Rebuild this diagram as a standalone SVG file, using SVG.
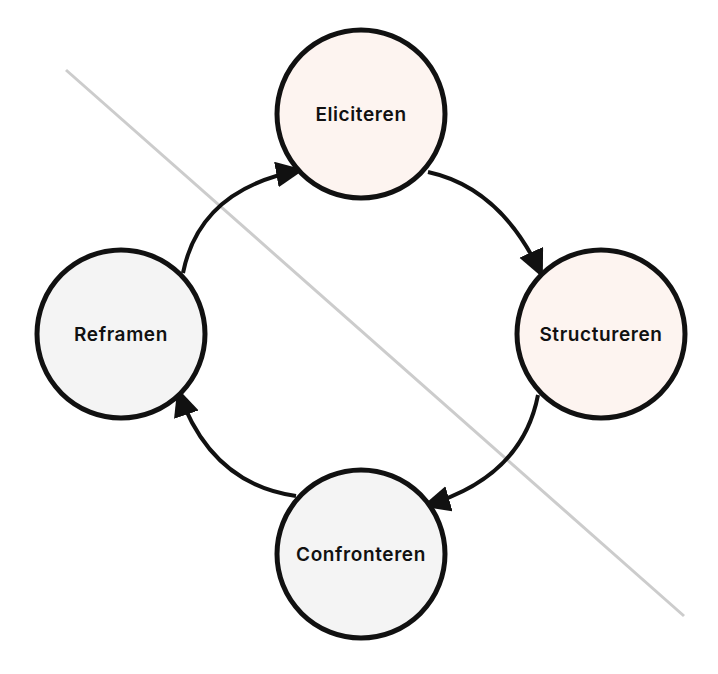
<svg xmlns="http://www.w3.org/2000/svg" width="718" height="674" viewBox="0 0 718 674">
<style>
.n{stroke:#111;stroke-width:5}
.w{fill:#FDF4F0}.g{fill:#F4F4F4}
text{font-family:Inter,"Liberation Sans",sans-serif;font-weight:600;font-size:19px;letter-spacing:0.6px;fill:#111;text-anchor:middle;dominant-baseline:central}
.c{fill:none;stroke:#111;stroke-width:4}
</style>
<defs><marker id="a" markerUnits="userSpaceOnUse" markerWidth="30" markerHeight="30" refX="26" refY="13" orient="auto"><path d="M0,0L28,13L0,26Z" fill="#111"/></marker></defs>
<rect width="718" height="674" fill="#fff"/>
<line x1="66" y1="70" x2="684" y2="616" stroke="#ccc" stroke-width="3"/>
<g id="connectors">
<path class="c" d="M428,172 Q502,188 542,276" marker-end="url(#a)"/>
<path class="c" d="M538,395 Q522,478 424,506" marker-end="url(#a)"/>
<path class="c" d="M296,496 Q210,484 178,390" marker-end="url(#a)"/>
<path class="c" d="M183,273 Q200,188 302,170" marker-end="url(#a)"/>
</g>
<g id="eliciteren"><circle class="n w" cx="361" cy="114" r="84"/><text x="361" y="114">Eliciteren</text></g>
<g id="structureren"><circle class="n w" cx="601" cy="334" r="84"/><text x="601" y="334">Structureren</text></g>
<g id="confronteren"><circle class="n g" cx="361" cy="554" r="84"/><text x="361" y="554">Confronteren</text></g>
<g id="reframen"><circle class="n g" cx="121" cy="334" r="84"/><text x="121" y="334">Reframen</text></g>
</svg>
